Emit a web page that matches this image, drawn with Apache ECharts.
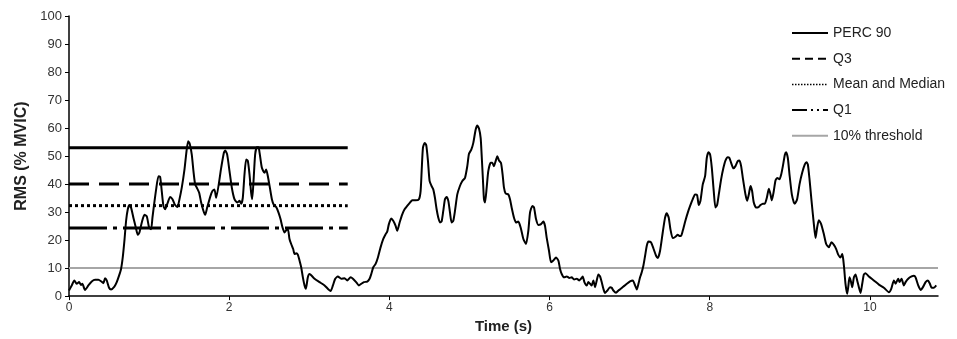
<!DOCTYPE html>
<html>
<head>
<meta charset="utf-8">
<script src="https://cdn.jsdelivr.net/npm/echarts@6/dist/echarts.min.js"></script>
<style>
html,body{margin:0;padding:0;background:#fff;}
#chart{width:957px;height:339px;}
</style>
</head>
<body>
<div id="chart"></div>
<script>
// Time (s) of the RMS signal
const times = [
0.000,0.034,0.067,0.096,0.126,0.150,0.167,0.200,0.242,0.284,0.325,0.367,0.400,0.430,0.450,0.471,0.500,0.525,0.567,0.596,
0.625,0.650,0.671,0.692,0.713,0.734,0.754,0.775,0.804,0.834,0.859,0.879,0.909,0.942,0.971,1.000,1.025,1.042,1.063,1.088,
1.117,1.138,1.158,1.179,1.200,1.233,1.263,1.292,1.325,1.354,1.375,1.408,1.442,1.467,1.488,1.508,1.533,1.554,1.575,1.596,
1.625,1.650,1.679,1.700,1.725,1.766,1.791,1.816,1.837,1.900,1.933,1.950,1.975,2.004,2.033,2.066,2.100,2.129,2.150,2.170,
2.191,2.212,2.233,2.254,2.274,2.287,2.304,2.324,2.345,2.366,2.383,2.408,2.441,2.462,2.483,2.508,2.533,2.558,2.587,2.616,
2.641,2.666,2.691,2.712,2.733,2.753,2.774,2.799,2.816,2.837,2.857,2.878,2.899,2.920,2.941,2.957,2.982,3.003,3.066,3.128,
3.191,3.266,3.295,3.324,3.357,3.399,3.441,3.474,3.516,3.545,3.590,3.619,3.649,3.682,3.724,3.753,3.774,3.799,3.828,3.857,
3.890,3.924,3.953,3.973,3.994,4.023,4.048,4.078,4.098,4.128,4.161,4.190,4.223,4.257,4.286,4.328,4.369,4.390,4.403,4.419,
4.440,4.461,4.482,4.502,4.527,4.548,4.569,4.590,4.611,4.632,4.652,4.673,4.694,4.715,4.736,4.757,4.777,4.798,4.819,4.848,
4.881,4.911,4.944,4.973,4.994,5.023,5.048,5.077,5.098,5.119,5.140,5.152,5.169,5.181,5.194,5.215,5.235,5.265,5.285,5.306,
5.327,5.348,5.369,5.394,5.414,5.431,5.452,5.485,5.506,5.527,5.556,5.581,5.610,5.639,5.673,5.706,5.735,5.756,5.785,5.806,
5.831,5.860,5.889,5.922,5.943,5.964,5.993,6.018,6.047,6.081,6.110,6.131,6.152,6.181,6.214,6.247,6.276,6.306,6.339,6.372,
6.393,6.414,6.435,6.464,6.485,6.506,6.526,6.547,6.568,6.589,6.610,6.631,6.651,6.672,6.693,6.722,6.755,6.776,6.797,6.830,
6.860,6.889,6.922,6.964,7.005,7.039,7.068,7.089,7.110,7.130,7.151,7.172,7.193,7.214,7.234,7.267,7.297,7.330,7.351,7.380,
7.413,7.442,7.463,7.488,7.509,7.538,7.572,7.601,7.621,7.642,7.663,7.696,7.726,7.755,7.788,7.817,7.842,7.863,7.884,7.913,
7.942,7.963,7.984,8.005,8.026,8.050,8.071,8.092,8.113,8.142,8.171,8.196,8.225,8.246,8.267,8.296,8.321,8.350,8.371,8.392,
8.413,8.446,8.467,8.488,8.509,8.529,8.550,8.579,8.609,8.634,8.663,8.688,8.713,8.738,8.759,8.775,8.796,8.821,8.842,8.871,
8.892,8.913,8.938,8.954,8.975,8.996,9.025,9.050,9.062,9.091,9.121,9.154,9.187,9.208,9.225,9.246,9.271,9.300,9.321,9.341,
9.362,9.391,9.425,9.454,9.487,9.520,9.550,9.579,9.604,9.633,9.654,9.666,9.679,9.695,9.716,9.729,9.745,9.762,9.779,9.800,
9.820,9.841,9.862,9.883,9.904,9.924,9.945,9.987,10.049,10.112,10.174,10.237,10.266,10.299,10.320,10.353,10.370,10.395,10.424,10.445,
10.478,10.520,10.549,10.570,10.603,10.633,10.662,10.695,10.724,10.749,10.770,10.799,10.828
];
// RMS (% MVIC) values
const rms = [
2.0,3.8,5.6,4.4,5.0,4.0,4.4,2.2,3.8,5.2,5.8,5.8,5.3,4.6,6.4,5.6,3.0,2.4,3.4,5.0,
7.3,9.7,13.8,19.8,26.9,31.0,32.5,31.6,28.0,24.5,21.9,22.7,26.3,29.0,28.5,24.5,23.9,28.0,32.8,38.1,
42.8,42.5,37.5,32.2,31.0,33.4,35.4,34.6,32.5,31.8,34.0,38.7,45.2,51.7,55.3,54.3,50.5,44.6,39.9,38.7,
36.9,33.4,30.4,29.0,31.6,35.7,37.5,38.1,35.1,45.8,51.1,52.0,50.5,44.6,38.7,34.6,33.4,34.0,33.0,35.1,
43.4,48.8,48.2,43.4,36.9,34.6,41.1,50.5,53.1,53.1,50.5,45.8,44.0,45.2,42.8,38.7,34.6,32.5,31.8,29.8,
27.5,24.5,22.7,23.5,23.9,20.4,18.6,16.8,15.0,15.3,14.8,12.7,10.3,6.7,3.8,2.6,6.7,7.9,6.2,5.0,
3.8,1.8,3.8,6.2,7.0,6.2,6.4,5.6,6.7,6.2,4.8,3.8,4.4,5.0,5.2,6.2,7.9,10.3,11.5,13.8,
17.4,20.4,22.1,23.0,25.7,27.7,26.9,25.1,23.3,26.3,29.2,31.0,32.2,33.4,34.2,34.2,34.6,37.5,44.6,52.9,
54.7,53.8,48.2,41.1,39.3,38.1,35.1,31.0,28.0,26.3,26.6,30.4,34.6,35.4,34.0,29.8,26.3,26.9,30.4,36.3,
39.3,41.1,42.2,46.4,50.8,52.3,54.7,59.4,60.9,59.8,56.4,50.5,41.1,34.6,33.4,38.7,44.6,47.6,47.6,46.4,
48.2,49.9,48.4,47.5,43.4,38.7,36.6,36.3,34.6,31.6,28.0,26.3,26.6,24.5,20.4,18.6,23.3,29.8,32.2,31.6,
27.5,25.4,25.6,26.6,25.1,20.9,16.2,12.1,12.7,13.8,12.7,9.7,7.9,6.7,7.0,6.5,6.7,5.9,6.2,5.6,
6.2,7.0,5.0,3.8,5.0,4.4,3.8,5.6,3.2,5.6,7.7,7.0,5.0,2.6,1.1,2.0,3.2,3.0,2.0,1.2,
2.0,2.6,3.4,4.4,5.3,5.6,3.8,2.4,4.4,6.7,8.5,10.9,14.4,18.0,19.5,19.2,17.0,14.4,13.6,16.2,
22.7,28.0,29.6,28.0,23.9,20.7,21.2,21.9,21.5,21.5,23.3,26.9,29.8,32.2,34.6,36.3,36.1,32.5,34.0,39.9,
42.8,49.3,51.4,50.5,45.8,37.5,31.6,32.5,36.3,41.7,45.8,48.4,49.6,49.3,47.6,45.6,46.4,48.2,48.4,46.4,
42.2,36.3,34.0,36.3,39.3,37.5,33.4,31.6,31.8,32.5,33.0,33.0,35.1,38.3,36.3,34.2,36.9,41.3,42.2,41.7,
43.4,46.4,50.5,51.4,49.3,43.4,36.3,33.4,33.0,34.6,39.9,44.0,47.0,47.8,47.0,41.7,34.0,25.7,20.7,24.5,
27.1,25.7,22.1,18.6,17.4,19.2,18.3,16.8,14.8,13.8,15.0,13.3,9.7,4.4,0.8,3.2,6.7,5.3,3.2,6.7,
7.7,5.6,3.2,1.1,4.4,7.7,8.2,7.0,5.6,4.1,3.0,1.4,2.6,5.6,4.4,6.2,5.0,6.2,3.8,5.0,
6.2,7.0,7.3,6.7,3.8,2.2,3.2,5.0,5.6,4.4,3.0,3.0,3.8
];
// Reference levels (drawn over the first contraction)
const refNames = ['PERC 90', 'Q3', 'Mean and Median', 'Q1'];
const refValues = [53, 40, 32.3, 24.3];
const refStart = 0;
const refEnd = 3.48;
const thresholdName = '10% threshold';
const thresholdValue = 10;
// Axes
const xTicks = [0, 2, 4, 6, 8, 10];
const xMax = 10.85;
const yTicks = [0, 10, 20, 30, 40, 50, 60, 70, 80, 90, 100];

const refStyles = [
  {color: '#000', width: 3, type: 'solid'},
  {color: '#000', width: 3, type: [20, 10]},
  {color: '#000', width: 3, type: [3, 3]},
  {color: '#000', width: 3, type: [38, 6, 4, 6]}
];
const legendStyles = [
  {color: '#000', width: 2, type: 'solid'},
  {color: '#000', width: 2, type: [8, 5]},
  {color: '#000', width: 1.5, type: [1.5, 1.5]},
  {color: '#000', width: 2, type: [15, 4, 2, 4, 2, 4]}
];

const series = [];
refNames.forEach((n, i) => {
  series.push({
    name: n, type: 'line', symbol: 'none', silent: true,
    data: [[refStart, refValues[i]], [refEnd, refValues[i]]],
    lineStyle: refStyles[i], itemStyle: {color: '#000'}, z: 2
  });
});
series.push({
  name: thresholdName, type: 'line', symbol: 'none', silent: true,
  data: [[0, thresholdValue], [xMax, thresholdValue]],
  lineStyle: {color: '#a6a6a6', width: 2}, itemStyle: {color: '#a6a6a6'}, z: 1
});
series.push({
  name: 'RMS', type: 'line', symbol: 'none', smooth: 0.2,
  data: times.map((t, i) => [t, rms[i]]),
  lineStyle: {color: '#000', width: 2}, z: 3
});

const legendData = refNames.map((n, i) => ({name: n, lineStyle: legendStyles[i]}))
  .concat([{name: thresholdName, lineStyle: {color: '#a6a6a6', width: 2, type: 'solid'}}]);

const chart = echarts.init(document.getElementById('chart'), null, {renderer: 'canvas'});
chart.setOption({
  animation: false,
  backgroundColor: '#fff',
  grid: {left: 69, right: 19, top: 16, bottom: 40, containLabel: false},
  legend: {
    orient: 'vertical', left: 786, top: 21,
    itemWidth: 36, itemHeight: 14, itemGap: 11.7, itemTextGap: 2,
    itemStyle: {opacity: 0},
    textStyle: {fontFamily: 'Liberation Sans, Arial, sans-serif', fontSize: 14, color: '#222'},
    data: legendData
  },
  xAxis: {
    type: 'value', min: 0, max: xMax,
    name: 'Time (s)', nameLocation: 'middle', nameGap: 22,
    nameTextStyle: {fontFamily: 'Liberation Sans, Arial, sans-serif', fontSize: 15, fontWeight: 'bold', color: '#222'},
    axisLine: {lineStyle: {color: '#000', width: 1.5}},
    axisTick: {show: true, length: 4, lineStyle: {color: '#000'}, customValues: xTicks},
    axisLabel: {customValues: xTicks, margin: 6, fontFamily: 'Liberation Sans, Arial, sans-serif', fontSize: 12, color: '#333'},
    splitLine: {show: false}
  },
  yAxis: {
    type: 'value', min: 0, max: 100, interval: 10,
    name: 'RMS (% MVIC)', nameLocation: 'middle', nameGap: 30, nameRotate: 90,
    nameTextStyle: {fontFamily: 'Liberation Sans, Arial, sans-serif', fontSize: 16, fontWeight: 'bold', color: '#222'},
    axisLine: {show: true, lineStyle: {color: '#000', width: 1.5}},
    axisTick: {show: true, length: 4, lineStyle: {color: '#000'}},
    axisLabel: {margin: 7, fontFamily: 'Liberation Sans, Arial, sans-serif', fontSize: 13, color: '#333',
      formatter: v => yTicks.indexOf(v) >= 0 ? String(v) : ''},
    splitLine: {show: false}
  },
  series: series
});
</script>
</body>
</html>
